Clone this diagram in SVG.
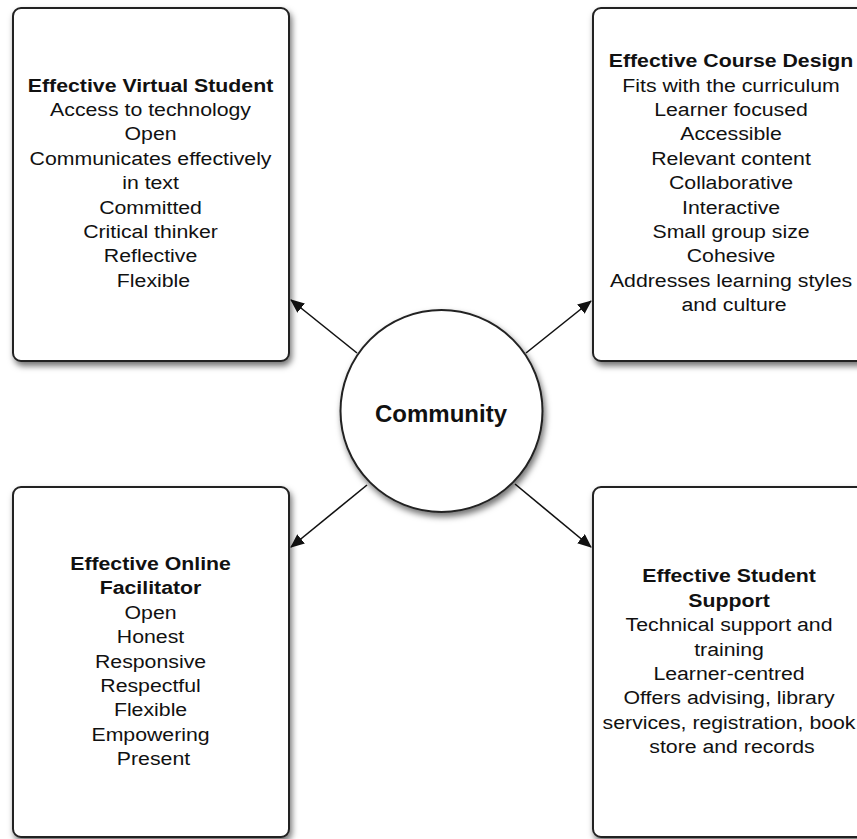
<svg xmlns="http://www.w3.org/2000/svg" width="857" height="839" viewBox="0 0 857 839">
  <style>
    .box { fill: #ffffff; stroke: #222222; stroke-width: 2; filter: url(#shadow); }
    .hub { fill: #ffffff; stroke: #222222; stroke-width: 2; filter: url(#shadow); }
    .txt { font-family: "Liberation Sans", Arial, Helvetica, sans-serif; font-size: 19px; fill: #111111; text-anchor: middle; }
    .hd { font-weight: bold; }
    .hubtxt { font-family: "Liberation Sans", Arial, Helvetica, sans-serif; font-size: 24px; font-weight: bold; fill: #111111; text-anchor: middle; }
    .conn { stroke: #111111; stroke-width: 1.6; fill: none; marker-end: url(#arrow); }
  </style>
  <defs>
    <filter id="shadow" x="-20%" y="-20%" width="140%" height="140%">
      <feDropShadow dx="2" dy="4" stdDeviation="3" flood-color="#000000" flood-opacity="0.55"/>
    </filter>
    <marker id="arrow" markerWidth="14" markerHeight="12" refX="13" refY="6" orient="auto" markerUnits="userSpaceOnUse">
      <path d="M0,0 L14,6 L0,12 z" fill="#111111"/>
    </marker>
  </defs>

  <rect width="857" height="839" fill="#ffffff"/>

  <!-- connectors from the hub to each quadrant -->
  <g id="connectors">
    <line class="conn" x1="357" y1="353" x2="291" y2="300"/>
    <line class="conn" x1="526" y1="353" x2="591" y2="301"/>
    <line class="conn" x1="367" y1="485" x2="291" y2="547"/>
    <line class="conn" x1="515" y1="484" x2="591" y2="547"/>
  </g>

  <!-- box labels are set slightly wide: each text block sits in a group
       translated to the box centre and stretched horizontally -->
  <g id="virtual-student">
    <rect class="box" x="13" y="8" width="276" height="353" rx="8"/>
    <g transform="translate(153.5,0) scale(1.12,1)">
      <text class="txt">
        <tspan class="hd" x="0" y="91.7">Effective Virtual Student</tspan>
        <tspan x="0" y="116.1">Access to technology</tspan>
        <tspan x="0" y="140.5">Open</tspan>
        <tspan x="0" y="164.9">Communicates effectively</tspan>
        <tspan x="0" y="189.3">in text</tspan>
        <tspan x="0" y="213.7">Committed</tspan>
        <tspan x="0" y="238.1">Critical thinker</tspan>
        <tspan x="0" y="262.5">Reflective</tspan>
        <tspan x="0" y="286.9">Flexible</tspan>
      </text>
    </g>
  </g>

  <g id="course-design">
    <rect class="box" x="593" y="8" width="276" height="353" rx="8"/>
    <g transform="translate(734,0) scale(1.12,1)">
      <text class="txt">
        <tspan class="hd" x="0" y="67.3">Effective Course Design</tspan>
        <tspan x="0" y="91.7">Fits with the curriculum</tspan>
        <tspan x="0" y="116.1">Learner focused</tspan>
        <tspan x="0" y="140.5">Accessible</tspan>
        <tspan x="0" y="164.9">Relevant content</tspan>
        <tspan x="0" y="189.3">Collaborative</tspan>
        <tspan x="0" y="213.7">Interactive</tspan>
        <tspan x="0" y="238.1">Small group size</tspan>
        <tspan x="0" y="262.5">Cohesive</tspan>
        <tspan x="0" y="286.9">Addresses learning styles</tspan>
        <tspan x="0" y="311.3">and culture</tspan>
      </text>
    </g>
  </g>

  <g id="online-facilitator">
    <rect class="box" x="13" y="487" width="276" height="350" rx="8"/>
    <g transform="translate(153.5,0) scale(1.12,1)">
      <text class="txt">
        <tspan class="hd" x="0" y="570">Effective Online</tspan>
        <tspan class="hd" x="0" y="594.4">Facilitator</tspan>
        <tspan x="0" y="618.8">Open</tspan>
        <tspan x="0" y="643.2">Honest</tspan>
        <tspan x="0" y="667.6">Responsive</tspan>
        <tspan x="0" y="692">Respectful</tspan>
        <tspan x="0" y="716.4">Flexible</tspan>
        <tspan x="0" y="740.8">Empowering</tspan>
        <tspan x="0" y="765.2">Present</tspan>
      </text>
    </g>
  </g>

  <g id="student-support">
    <rect class="box" x="593" y="487" width="276" height="350" rx="8"/>
    <g transform="translate(732,0) scale(1.12,1)">
      <text class="txt">
        <tspan class="hd" x="0" y="582.5">Effective Student</tspan>
        <tspan class="hd" x="0" y="606.9">Support</tspan>
        <tspan x="0" y="631.3">Technical support and</tspan>
        <tspan x="0" y="655.7">training</tspan>
        <tspan x="0" y="680.1">Learner-centred</tspan>
        <tspan x="0" y="704.5">Offers advising, library</tspan>
        <tspan x="0" y="728.9">services, registration, book</tspan>
        <tspan x="0" y="753.3">store and records</tspan>
      </text>
    </g>
  </g>

  <g id="community">
    <circle class="hub" cx="441.5" cy="411" r="101"/>
    <text class="hubtxt" x="441" y="421.5">Community</text>
  </g>
</svg>
